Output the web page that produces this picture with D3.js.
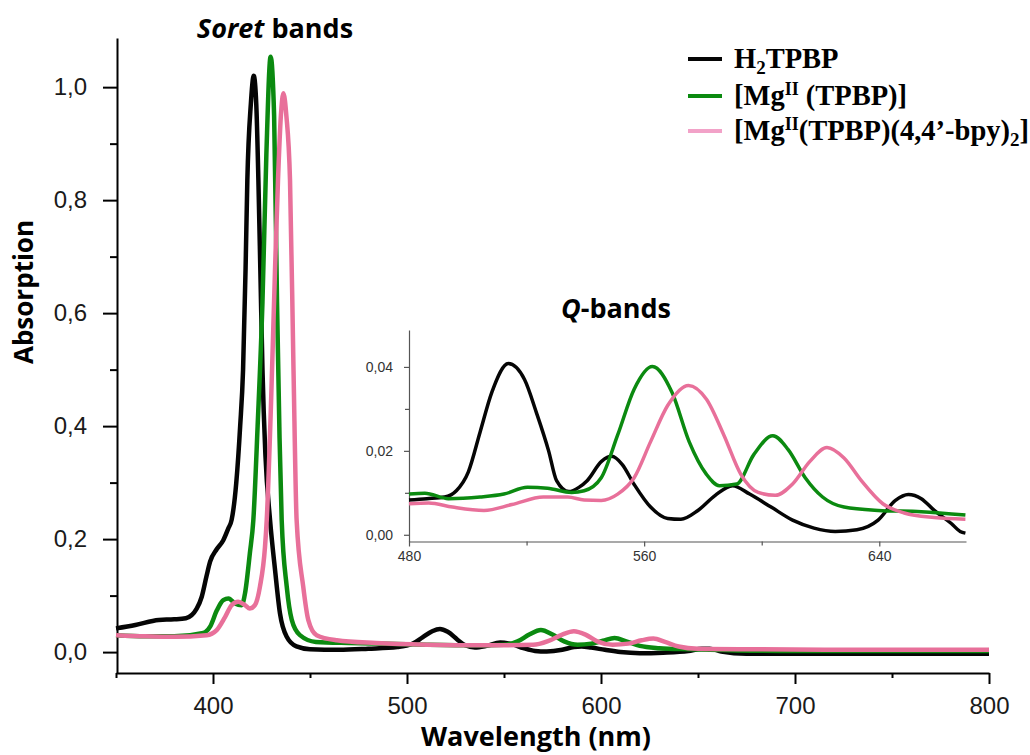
<!DOCTYPE html>
<html>
<head>
<meta charset="utf-8">
<script src="https://cdn.jsdelivr.net/npm/d3@7"></script>
<style>
  body { margin: 0; background: #fff; }
</style>
</head>
<body>
<script>
// ---- values ----
const seriesColors = ["#050505", "#0b8a10", "#e8709a"];
const legendColors = ["#050505", "#0b8a10", "#f2a2c8"];

// main spectra (wavelength nm / absorption)
const h2Nm  = [350,360,372,380,386,391.6,394.2,396.7,398.5,401.9,405.3,407.9,409.6,412,414,415.5,416.8,417.7,419.5,421,422.3,423.4,424.5,425.5,427,429.4,432,434.5,438,443,450,465,480,495,503,508,513,517,521,526,530,535,541,548,554,560,566,572,580,586,590,595,602,610,620,632,645,652,656,662,675,700,750,800];
const h2Abs = [.042,.048,.057,.058,.060,.077,.098,.135,.160,.182,.198,.219,.234,.30,.40,.50,.68,.835,.97,1.02,.97,.835,.66,.50,.35,.234,.145,.069,.027,.010,.005,.004,.006,.009,.015,.026,.037,.041,.036,.022,.012,.008,.011,.017,.014,.007,.002,.001,.004,.009,.010,.008,.004,.000,-.002,-.001,.002,.006,.006,.001,-.003,-.003,-.003,-.003];

const mgNm  = [350,365,380,395,398.5,402,405.3,408,411.3,414.8,416.5,419,420.8,423,425.5,427.5,429.7,431.5,433,434.3,435.4,438,440.6,444.8,453,470,484,510,535,550,557,563,569,575,581,588,595,601,607,613,620,630,645,670,700,750,800];
const mgAbs = [.030,.028,.028,.034,.045,.074,.092,.095,.086,.083,.104,.175,.234,.40,.62,.88,1.054,.95,.62,.38,.234,.116,.057,.030,.018,.016,.015,.013,.012,.013,.019,.031,.039,.031,.019,.013,.015,.020,.025,.019,.011,.007,.005,.003,.002,.002,.002];

const bpyNm  = [350,365,380,396.7,401.9,406.2,409.6,413,416.5,419,421.6,424.2,426.8,427.7,430,432,433.5,435,436.3,437.8,439.7,441.5,443.1,446.5,449.1,453.4,463.8,484,510,540,565,573,580,586,592,598,606,614,621,627,633,640,650,680,720,800];
const bpyAbs = [.030,.028,.027,.030,.039,.062,.083,.089,.083,.077,.083,.116,.186,.234,.45,.68,.835,.95,.989,.95,.835,.50,.234,.116,.057,.030,.021,.016,.013,.012,.013,.020,.031,.037,.031,.019,.013,.015,.021,.024,.018,.010,.006,.005,.004,.004];

// inset, Q-bands
const qH2Nm  = [480,486.1,492.1,496.1,500.2,504.2,508.2,513.8,519.3,523.4,527.5,530.2,534.4,537.8,540.6,545.5,549,552.5,556.6,562.2,568,572.5,578.3,584.2,590.1,595.9,603.2,610.5,617.8,625,632.4,639.6,645.5,649.9,654.3,658.7,664.5,667.5,669.3];
const qH2Abs = [.0083,.0086,.009,.0105,.015,.0245,.034,.0408,.037,.029,.020,.0129,.0103,.0113,.0129,.0175,.0187,.0168,.012,.0066,.0039,.0037,.0058,.0094,.0117,.0097,.0066,.0035,.0016,.0008,.0012,.0035,.0082,.0096,.0086,.0058,.0027,.0008,.0004];

const qMgNm  = [480,485.4,493.4,504.2,512.3,520.3,527.1,535.3,539.6,545.4,551,556.6,562.8,569.5,575.3,581.2,585.6,591.5,597.3,603.8,609,614.8,620.7,628,639.6,654.3,669.3];
const qMgAbs = [.0097,.0099,.0086,.009,.0097,.0113,.0111,.0101,.0105,.0136,.0238,.0347,.0401,.0339,.0222,.0144,.0117,.0121,.0191,.0236,.0203,.0136,.009,.0066,.0058,.0055,.0047];

const qBpyNm  = [480,486.7,494.8,505.5,515,525.7,534,539.6,545.4,551,556.6,562.2,568,575.1,581.2,587.1,592.9,598.8,604.6,610.5,616.4,622.2,628,633.9,641.2,648.5,658.7,669.3];
const qBpyAbs = [.0074,.0076,.0066,.0058,.0072,.009,.009,.0083,.0082,.0097,.0136,.0222,.0308,.0356,.0323,.0238,.0144,.0101,.0094,.0121,.0175,.0208,.0183,.0129,.0074,.0052,.0041,.0037];

// ticks
const xTicks = [400, 500, 600, 700, 800];
const xMinor = [350, 450, 550, 650, 750];
const yTicks = [0, 0.2, 0.4, 0.6, 0.8, 1.0];
const yMinor = [0.1, 0.3, 0.5, 0.7, 0.9];
const qxTicks = [480, 560, 640];
const qxMinor = [520, 600];
const qyTicks = [0, 0.02, 0.04];
const qyMinor = [0.01, 0.03];

// ---- drawing ----
const W = 1030, H = 755;
const svg = d3.select("body").append("svg")
  .attr("width", W).attr("height", H);

const comma = d3.formatLocale({decimal: ",", thousands: ".", grouping: [3], currency: ["", ""]});
const f1 = comma.format(".1f"), f2 = comma.format(".2f");

const x = d3.scaleLinear().domain([350, 800]).range([116, 989]);
const y = d3.scaleLinear().domain([-0.037, 1.087]).range([673, 38]);

const sans = "'Liberation Sans', Arial, sans-serif";
const title = "'Open Sans', Lato, sans-serif";

// main axes
const xAxis = svg.append("g").attr("transform", "translate(0,673)")
  .call(d3.axisBottom(x).tickValues(xTicks).tickSize(11).tickSizeOuter(0).tickPadding(13).tickFormat(d3.format("d")));
svg.append("g").attr("transform", "translate(0,673)")
  .call(d3.axisBottom(x).tickValues(xMinor).tickSize(5).tickSizeOuter(0).tickFormat(""))
  .select(".domain").remove();

const yAxis = svg.append("g").attr("transform", "translate(117,0)")
  .call(d3.axisLeft(y).tickValues(yTicks).tickSize(14).tickSizeOuter(0).tickPadding(16).tickFormat(f1));
svg.append("g").attr("transform", "translate(117,0)")
  .call(d3.axisLeft(y).tickValues(yMinor).tickSize(7).tickSizeOuter(0).tickFormat(""))
  .select(".domain").remove();

svg.selectAll(".domain").attr("stroke", "#000").attr("stroke-width", 2);
svg.selectAll(".tick line").attr("stroke", "#000").attr("stroke-width", 2);
xAxis.selectAll("text").attr("font-family", sans).attr("font-size", 24).attr("fill", "#1a1a1a");
yAxis.selectAll("text").attr("font-family", sans).attr("font-size", 24).attr("fill", "#1a1a1a");

svg.append("text").attr("x", 536).attr("y", 746).attr("text-anchor", "middle")
  .attr("font-family", title).attr("font-weight", "bold").attr("font-size", 27)
  .text("Wavelength (nm)");
svg.append("text").attr("transform", "translate(33,292) rotate(-90)").attr("text-anchor", "middle")
  .attr("font-family", title).attr("font-weight", "bold").attr("font-size", 26)
  .text("Absorption");

// main curves
const line = d3.line().curve(d3.curveMonotoneX)
  .x(d => x(d[0])).y(d => y(d[1]));
const mainSeries = [d3.zip(h2Nm, h2Abs), d3.zip(mgNm, mgAbs), d3.zip(bpyNm, bpyAbs)];
svg.append("g").selectAll("path").data(mainSeries).join("path")
  .attr("d", line).attr("fill", "none")
  .attr("stroke", (d, i) => seriesColors[i])
  .attr("stroke-width", 4.5).attr("stroke-linejoin", "round");

// Soret label
const soret = svg.append("text").attr("x", 275).attr("y", 38).attr("text-anchor", "middle")
  .attr("font-family", title).attr("font-weight", "bold").attr("font-size", 27);
soret.append("tspan").attr("font-style", "italic").text("Soret");
soret.append("tspan").text(" bands");

// ---- inset ----
const qx = d3.scaleLinear().domain([480, 669.5]).range([409, 966]);
const qy = d3.scaleLinear().domain([-0.0016, 0.0488]).range([541.5, 330]);
const inset = svg.append("g");

const qxAxis = inset.append("g").attr("transform", "translate(0,541.5)")
  .call(d3.axisBottom(qx).tickValues(qxTicks).tickSize(5).tickSizeOuter(0).tickPadding(5).tickFormat(d3.format("d")));
inset.append("g").attr("transform", "translate(0,541.5)")
  .call(d3.axisBottom(qx).tickValues(qxMinor).tickSize(4).tickSizeOuter(0).tickFormat(""))
  .select(".domain").remove();
const qyAxis = inset.append("g").attr("transform", "translate(409,0)")
  .call(d3.axisLeft(qy).tickValues(qyTicks).tickSize(5).tickSizeOuter(0).tickPadding(11).tickFormat(f2));
inset.append("g").attr("transform", "translate(409,0)")
  .call(d3.axisLeft(qy).tickValues(qyMinor).tickSize(4).tickSizeOuter(0).tickFormat(""))
  .select(".domain").remove();

inset.selectAll(".domain").attr("stroke", "#555").attr("stroke-width", 1.2);
inset.selectAll(".tick line").attr("stroke", "#555").attr("stroke-width", 1.2);
inset.selectAll("text").attr("font-family", sans).attr("font-size", 14).attr("fill", "#333");

const qline = d3.line().curve(d3.curveMonotoneX)
  .x(d => qx(d[0])).y(d => qy(d[1]));
const qSeries = [d3.zip(qH2Nm, qH2Abs), d3.zip(qMgNm, qMgAbs), d3.zip(qBpyNm, qBpyAbs)];
inset.append("g").selectAll("path").data(qSeries).join("path")
  .attr("d", qline).attr("fill", "none")
  .attr("stroke", (d, i) => seriesColors[i])
  .attr("stroke-width", 3.5).attr("stroke-linejoin", "round");

const qlab = svg.append("text").attr("x", 616).attr("y", 318).attr("text-anchor", "middle")
  .attr("font-family", title).attr("font-weight", "bold").attr("font-size", 27);
qlab.append("tspan").attr("font-style", "italic").text("Q");
qlab.append("tspan").text("-bands");

// ---- legend ----
const serif = "'Liberation Serif', 'Times New Roman', serif";
const legendY = [59, 96, 131];
const legend = svg.append("g");
legendY.forEach((ly, i) => {
  legend.append("line").attr("x1", 688).attr("x2", 722).attr("y1", ly).attr("y2", ly)
    .attr("stroke", legendColors[i]).attr("stroke-width", 4);
});
function legText(i) {
  return legend.append("text").attr("x", 734).attr("y", legendY[i] + 9)
    .attr("font-family", serif).attr("font-weight", "bold").attr("font-size", 28.5).attr("fill", "#000");
}
const t0 = legText(0);
t0.append("tspan").text("H");
t0.append("tspan").attr("font-size", 19).attr("dy", 6).text("2");
t0.append("tspan").attr("dy", -6).text("TPBP");

const t1 = legText(1);
t1.append("tspan").text("[Mg");
t1.append("tspan").attr("font-size", 18).attr("dy", -10).text("II");
t1.append("tspan").attr("dy", 10).text(" (TPBP)]");

const t2 = legText(2);
t2.append("tspan").text("[Mg");
t2.append("tspan").attr("font-size", 18).attr("dy", -10).text("II");
t2.append("tspan").attr("dy", 10).text("(TPBP)(4,4’-bpy)");
t2.append("tspan").attr("font-size", 19).attr("dy", 6).text("2");
t2.append("tspan").attr("dy", -6).text("]");
</script>
</body>
</html>
